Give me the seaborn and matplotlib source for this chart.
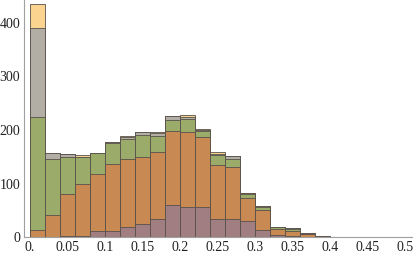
import numpy as np
import pandas as pd
import matplotlib
matplotlib.use("Agg")
import matplotlib.pyplot as plt
import seaborn as sns
from matplotlib.ticker import MultipleLocator

# Bin centres (width 0.02) and the counts per overlapped series
bin_centers = [0.01, 0.03, 0.05, 0.07, 0.09, 0.11, 0.13, 0.15, 0.17, 0.19,
               0.21, 0.23, 0.25, 0.27, 0.29, 0.31, 0.33, 0.35, 0.37, 0.39]

series_a = [436, 158, 155, 154, 158, 178, 189, 197, 196, 227, 229, 202, 159, 152, 83, 59, 19, 18, 8, 2]
series_b = [391, 157, 155, 150, 157, 177, 187, 196, 195, 226, 224, 201, 156, 151, 82, 58, 19, 17, 8, 2]
series_c = [224, 146, 149, 149, 157, 175, 183, 190, 189, 219, 221, 198, 153, 147, 81, 57, 19, 16, 7, 2]
series_d = [14, 41, 81, 99, 119, 137, 147, 150, 160, 199, 197, 187, 134, 132, 73, 50, 16, 11, 7, 2]
series_e = [0, 0, 2, 3, 11, 12, 19, 24, 34, 60, 56, 56, 34, 34, 30, 14, 5, 2, 0, 0]

# colours as they appear after Mathematica's opacity blending
layer_colors = ["#fbd58f", "#b2aea6", "#9bac6a", "#c98952", "#a07e82"]

x_ticks = [0, 0.05, 0.1, 0.15, 0.2, 0.25, 0.3, 0.35, 0.4, 0.45, 0.5]
x_labels = ["0.", "0.05", "0.1", "0.15", "0.2", "0.25", "0.3", "0.35", "0.4", "0.45", "0.5"]
y_ticks = [0, 100, 200, 300, 400]

sns.set_style("white")
plt.rcParams['font.family'] = ['Liberation Serif', 'DejaVu Serif']

fig = plt.figure(figsize=(4.15, 2.56), dpi=100)
ax = fig.add_axes([23.5 / 415, 18.7 / 256, 388.5 / 415, 237.3 / 256])

for counts, col in zip([series_a, series_b, series_c, series_d, series_e], layer_colors):
    df = pd.DataFrame({"x": bin_centers, "count": counts})
    sns.histplot(data=df, x="x", weights="count", binwidth=0.02, binrange=(0, 0.4),
                 color=col, alpha=1, edgecolor="#57504a", linewidth=0.6, ax=ax)

ax.set_xlim(-0.0087, 0.5093)
ax.set_ylim(0, 442.7)
ax.set_xlabel("")
ax.set_ylabel("")

ax.set_xticks(x_ticks)
ax.set_xticklabels(x_labels)
ax.set_yticks(y_ticks)
ax.xaxis.set_minor_locator(MultipleLocator(0.01))
ax.yaxis.set_minor_locator(MultipleLocator(20))

for side in ["top", "right"]:
    ax.spines[side].set_visible(False)
for side in ["left", "bottom"]:
    ax.spines[side].set_color("#a0a0a0")
    ax.spines[side].set_linewidth(0.8)

ax.tick_params(axis="both", which="both", color="#a0a0a0", labelcolor="#222222", labelsize=10)
ax.tick_params(axis="x", which="major", direction="in", length=3.5, width=0.7, pad=3)
ax.tick_params(axis="x", which="minor", direction="in", length=2, width=0.5)
ax.tick_params(axis="y", which="major", direction="inout", length=4, width=0.7, pad=0.5)
ax.tick_params(axis="y", which="minor", direction="in", length=2, width=0.5)
ax.grid(False)

fig.savefig("out.png", dpi=100)
